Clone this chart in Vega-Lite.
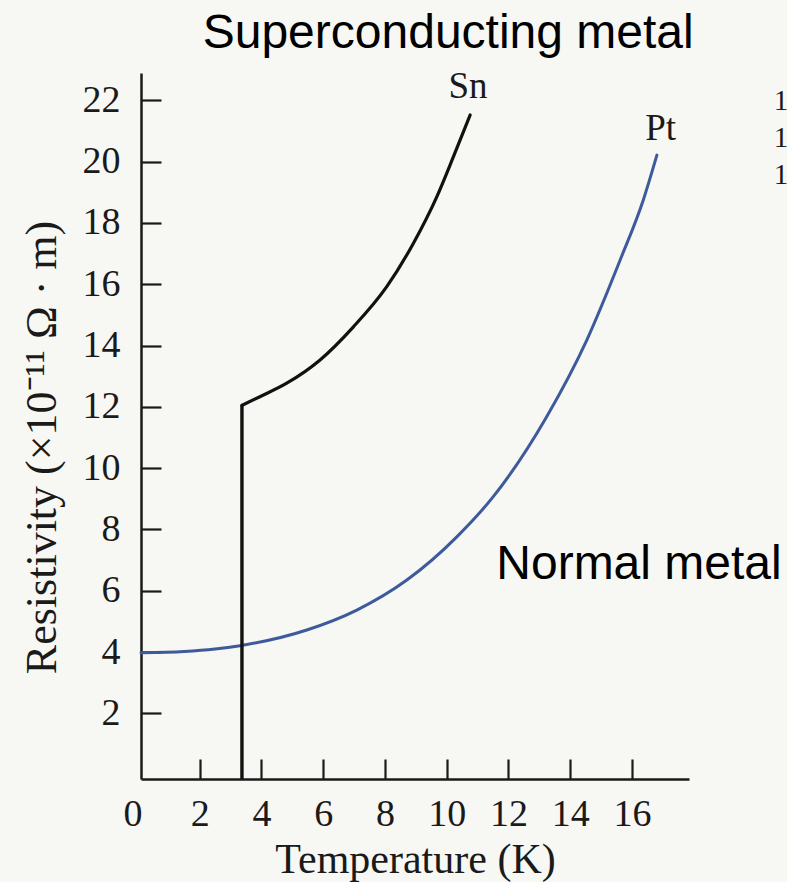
{
  "$schema": "https://vega.github.io/schema/vega-lite/v6.json",
  "width": 548,
  "height": 706,
  "autosize": {"type": "none"},
  "padding": {"left": 141, "top": 73, "right": 98, "bottom": 103},
  "background": "#f7f7f4",
  "config": {
    "view": {"stroke": null},
    "axis": {
      "grid": false,
      "domainColor": "#1a1a1a",
      "domainWidth": 2.5,
      "tickColor": "#1a1a1a",
      "tickWidth": 2.2,
      "tickSize": -20,
      "labelFont": "Liberation Serif",
      "labelFontSize": 38,
      "labelColor": "#1a1a1a",
      "titleFont": "Liberation Serif",
      "titleFontSize": 42,
      "titleFontWeight": "normal",
      "titleColor": "#1a1a1a"
    }
  },
  "layer": [
    {
      "data": {"values": [
        {"T": 0.1, "rho": 3.98}, {"T": 1.5, "rho": 4.02}, {"T": 2.5, "rho": 4.1},
        {"T": 3.31, "rho": 4.21}, {"T": 5.47, "rho": 4.72}, {"T": 7.09, "rho": 5.37},
        {"T": 8.71, "rho": 6.35}, {"T": 10.33, "rho": 7.76}, {"T": 11.51, "rho": 9.07},
        {"T": 13.24, "rho": 11.68}, {"T": 14.54, "rho": 14.18}, {"T": 15.62, "rho": 16.79},
        {"T": 16.37, "rho": 18.75}, {"T": 16.81, "rho": 20.21}
      ]},
      "mark": {"type": "line", "interpolate": "monotone", "color": "#3d5a9b", "strokeWidth": 3, "strokeCap": "round"},
      "encoding": {
        "x": {
          "field": "T", "type": "quantitative",
          "scale": {"domain": [0.1, 17.85], "nice": false, "zero": false},
          "axis": {
            "values": [0.1, 2, 4, 6, 8, 10, 12, 14, 16],
            "labelExpr": "datum.value < 1 ? '0' : datum.label",
            "labelOffset": {"condition": {"test": "datum.value < 1", "value": -18}, "value": 0},
            "tickOpacity": {"condition": {"test": "datum.value < 1", "value": 0}, "value": 1},
            "labelBaseline": "alphabetic",
            "labelPadding": 66,
            "title": "Temperature (K)",
            "titleY": 93,
            "titleBaseline": "alphabetic"
          }
        },
        "y": {
          "field": "rho", "type": "quantitative",
          "scale": {"domain": [-0.14, 22.89], "nice": false, "zero": false},
          "axis": {
            "values": [2, 4, 6, 8, 10, 12, 14, 16, 18, 20, 22],
            "labelPadding": 41,
            "title": "Resistivity (×10⁻¹¹ Ω · m)",
            "titleFontSize": 44,
            "titleX": -86,
            "titleY": 374,
            "titleBaseline": "alphabetic"
          }
        }
      }
    },
    {
      "data": {"values": [{"T": 3.37, "rho": -0.14, "rho2": 12.05}]},
      "mark": {"type": "rule", "color": "#111111", "strokeWidth": 3.4},
      "encoding": {
        "x": {"field": "T", "type": "quantitative"},
        "y": {"field": "rho", "type": "quantitative"},
        "y2": {"field": "rho2"}
      }
    },
    {
      "data": {"values": [
        {"T": 3.37, "rho": 12.05}, {"T": 3.95, "rho": 12.33}, {"T": 4.82, "rho": 12.77},
        {"T": 5.9, "rho": 13.53}, {"T": 6.98, "rho": 14.61}, {"T": 8.06, "rho": 15.92},
        {"T": 8.92, "rho": 17.33}, {"T": 9.68, "rho": 18.85}, {"T": 10.22, "rho": 20.16},
        {"T": 10.76, "rho": 21.52}
      ]},
      "mark": {"type": "line", "interpolate": "monotone", "color": "#111111", "strokeWidth": 3.2, "strokeCap": "round"},
      "encoding": {
        "x": {"field": "T", "type": "quantitative"},
        "y": {"field": "rho", "type": "quantitative"}
      }
    },
    {
      "data": {"values": [
        {"T": 10.69, "rho": 22.07, "label": "Sn"},
        {"T": 16.93, "rho": 20.7, "label": "Pt"}
      ]},
      "mark": {"type": "text", "font": "Liberation Serif", "fontSize": 37, "color": "#1a1a1a", "align": "center", "baseline": "alphabetic", "clip": false},
      "encoding": {
        "x": {"field": "T", "type": "quantitative"},
        "y": {"field": "rho", "type": "quantitative"},
        "text": {"field": "label"}
      }
    },
    {
      "data": {"values": [
        {"T": 20.83, "rho": 21.68, "label": "1"},
        {"T": 20.83, "rho": 20.48, "label": "1"},
        {"T": 20.83, "rho": 19.27, "label": "1"}
      ]},
      "mark": {"type": "text", "font": "Liberation Serif", "fontSize": 29, "color": "#1a1a1a", "align": "center", "baseline": "alphabetic", "clip": false},
      "encoding": {
        "x": {"field": "T", "type": "quantitative"},
        "y": {"field": "rho", "type": "quantitative"},
        "text": {"field": "label"}
      }
    },
    {
      "data": {"values": [
        {"T": 10.05, "rho": 23.71, "label": "Superconducting metal"},
        {"T": 16.23, "rho": 6.39, "label": "Normal metal"}
      ]},
      "mark": {"type": "text", "font": "Liberation Sans", "fontSize": 48, "color": "#000000", "align": "center", "baseline": "alphabetic", "clip": false},
      "encoding": {
        "x": {"field": "T", "type": "quantitative"},
        "y": {"field": "rho", "type": "quantitative"},
        "text": {"field": "label"}
      }
    }
  ]
}
